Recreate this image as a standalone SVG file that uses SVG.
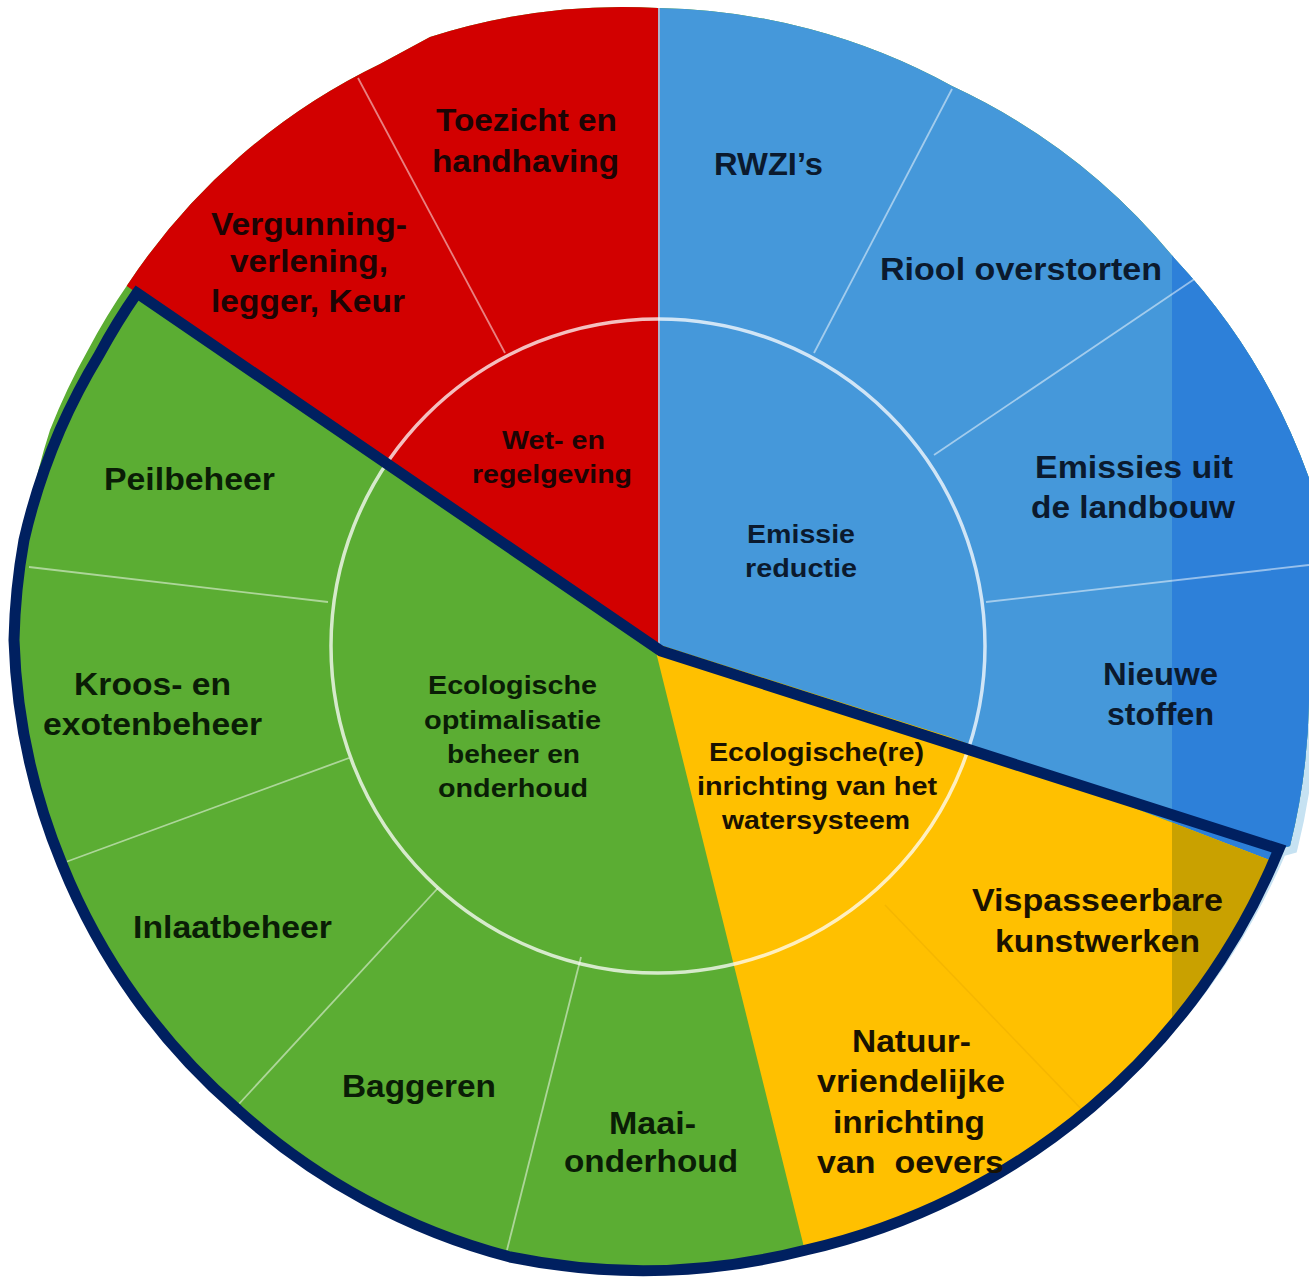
<svg xmlns="http://www.w3.org/2000/svg" width="1309" height="1277" viewBox="0 0 1309 1277">
<style>
.o{font-family:"Liberation Sans",Arial,sans-serif;font-weight:bold;font-size:31px}
.i{font-family:"Liberation Sans",Arial,sans-serif;font-weight:bold;font-size:25px}
.tr{fill:#1c0404}.tb{fill:#0b1a2e}.ty{fill:#1a1200}.tg{fill:#0a1d06}
.div{stroke:#ffffff;stroke-opacity:0.5;stroke-width:1.8;fill:none}
.pre{white-space:pre}
</style>
<defs>
<clipPath id="pie">
<path d="M128 284 A632 632 0 0 1 380 64 L430 37 A632 632 0 0 1 658 8 A632 632 0 0 1 952 86 A632 632 0 0 1 1175 259 A632 632 0 0 1 1309 478 L1320 478 L1320 700 L1309 700 A640 640 0 0 1 1290 846 L1279 849 A673 673 0 0 1 806 1250 A660 660 0 0 1 510 1257 A650 650 0 0 1 238 1110 A640 640 0 0 1 62 864 A640 640 0 0 1 14 640 A632 632 0 0 1 28 520 A632 632 0 0 1 50 430 A632 632 0 0 1 88 350 A632 632 0 0 1 128 284 Z"/>
</clipPath>
</defs>
<rect width="1309" height="1277" fill="#ffffff"/>
<path d="M1309 640 L1309 700 A640 640 0 0 1 1290 846 L1279 849 A673 673 0 0 1 880 1221" fill="none" stroke="#c6e2f2" stroke-width="16"/>
<g id="sector-green" clip-path="url(#pie)">
<rect x="-10" y="-10" width="1330" height="1300" fill="#5bad33"/>
</g>
<g id="sector-red" clip-path="url(#pie)">
<polygon points="659,650 -385,-64 -385,-100 658,-100 658,650" fill="#d20000"/>
</g>
<g id="sector-blue" clip-path="url(#pie)">
<polygon points="658,650 658,-100 1400,-100 1400,910 1290,868 950,737 657,644" fill="#4598da"/>
<polygon points="1172,-100 1400,-100 1400,910 1290,868 1172,822.5" fill="#2d80d9"/>
</g>
<g id="sector-yellow" clip-path="url(#pie)">
<polygon points="657,644 950,737 1290,868 1400,910 1400,1400 842,1400 655,648" fill="#ffc000"/>
<polygon points="1172,822.5 1290,868 1400,910 1400,1400 1172,1400" fill="#c9a100"/>
</g>
<g id="connectors">
<line x1="659" y1="8" x2="659" y2="648" stroke="#f2c4c4" stroke-opacity="0.6" stroke-width="2"/>
<circle cx="658" cy="646" r="327" fill="none" stroke="#ffffff" stroke-opacity="0.75" stroke-width="3.5"/>
<line class="div" x1="505" y1="353" x2="358" y2="78"/>
<line class="div" x1="814" y1="353" x2="952" y2="89"/>
<line class="div" x1="934" y1="455" x2="1196" y2="278"/>
<line class="div" x1="986" y1="602" x2="1309" y2="565"/>
<line x1="885" y1="905" x2="1088" y2="1116" stroke="#d89a00" stroke-opacity="0.25" stroke-width="1.5"/>
<line class="div" x1="328" y1="602" x2="29" y2="567"/>
<line class="div" x1="349" y1="758" x2="63" y2="863"/>
<line class="div" x1="438" y1="888" x2="238" y2="1105"/>
<line class="div" x1="581" y1="957" x2="507" y2="1250"/>
<path id="outline" d="M137 293 L661 651 L1279 849 A673 673 0 0 1 806 1250 A660 660 0 0 1 510 1257 A650 650 0 0 1 238 1110 A640 640 0 0 1 62 864 A640 640 0 0 1 14 640 A640 640 0 0 1 24 540 A640 640 0 0 1 60 430 A640 640 0 0 1 99 355 A640 640 0 0 1 137 293 Z" fill="none" stroke="#002060" stroke-width="11" stroke-linejoin="miter"/>
</g>
<g id="node-wet-en-regelgeving">
<text class="i tr" x="502" y="449" textLength="103" lengthAdjust="spacingAndGlyphs">Wet- en</text>
<text class="i tr" x="472" y="483" textLength="160" lengthAdjust="spacingAndGlyphs">regelgeving</text>
</g>
<g id="node-toezicht">
<text class="o tr" x="436" y="131" textLength="181" lengthAdjust="spacingAndGlyphs">Toezicht en</text>
<text class="o tr" x="432" y="172" textLength="187" lengthAdjust="spacingAndGlyphs">handhaving</text>
</g>
<g id="node-vergunning">
<text class="o tr" x="211" y="235" textLength="196" lengthAdjust="spacingAndGlyphs">Vergunning-</text>
<text class="o tr" x="230" y="272" textLength="158" lengthAdjust="spacingAndGlyphs">verlening,</text>
<text class="o tr" x="211" y="312" textLength="194" lengthAdjust="spacingAndGlyphs">legger, Keur</text>
</g>
<g id="node-emissie-reductie">
<text class="i tb" x="747" y="543" textLength="108" lengthAdjust="spacingAndGlyphs">Emissie</text>
<text class="i tb" x="745" y="577" textLength="112" lengthAdjust="spacingAndGlyphs">reductie</text>
</g>
<g id="node-rwzi">
<text class="o tb" x="714" y="175" textLength="109" lengthAdjust="spacingAndGlyphs">RWZI’s</text>
</g>
<g id="node-riool">
<text class="o tb" x="880" y="280" textLength="282" lengthAdjust="spacingAndGlyphs">Riool overstorten</text>
</g>
<g id="node-landbouw">
<text class="o tb" x="1035" y="478" textLength="198" lengthAdjust="spacingAndGlyphs">Emissies uit</text>
<text class="o tb" x="1031" y="518" textLength="204" lengthAdjust="spacingAndGlyphs">de landbouw</text>
</g>
<g id="node-nieuwe-stoffen">
<text class="o tb" x="1103" y="685" textLength="115" lengthAdjust="spacingAndGlyphs">Nieuwe</text>
<text class="o tb" x="1107" y="725" textLength="107" lengthAdjust="spacingAndGlyphs">stoffen</text>
</g>
<g id="node-ecologische-inrichting">
<text class="i ty" x="709" y="761" textLength="215" lengthAdjust="spacingAndGlyphs">Ecologische(re)</text>
<text class="i ty" x="697" y="795" textLength="240" lengthAdjust="spacingAndGlyphs">inrichting van het</text>
<text class="i ty" x="722" y="829" textLength="188" lengthAdjust="spacingAndGlyphs">watersysteem</text>
</g>
<g id="node-vispasseerbare">
<text class="o ty" x="972" y="911" textLength="251" lengthAdjust="spacingAndGlyphs">Vispasseerbare</text>
<text class="o ty" x="995" y="952" textLength="205" lengthAdjust="spacingAndGlyphs">kunstwerken</text>
</g>
<g id="node-natuurvriendelijke">
<text class="o ty" x="852" y="1052" textLength="119" lengthAdjust="spacingAndGlyphs">Natuur-</text>
<text class="o ty" x="817" y="1092" textLength="188" lengthAdjust="spacingAndGlyphs">vriendelijke</text>
<text class="o ty" x="833" y="1133" textLength="152" lengthAdjust="spacingAndGlyphs">inrichting</text>
<text class="o ty pre" x="817" y="1173" textLength="187" lengthAdjust="spacingAndGlyphs">van  oevers</text>
</g>
<g id="node-ecologische-optimalisatie">
<text class="i tg" x="428" y="694" textLength="169" lengthAdjust="spacingAndGlyphs">Ecologische</text>
<text class="i tg" x="424" y="729" textLength="177" lengthAdjust="spacingAndGlyphs">optimalisatie</text>
<text class="i tg" x="447" y="763" textLength="133" lengthAdjust="spacingAndGlyphs">beheer en</text>
<text class="i tg" x="438" y="797" textLength="150" lengthAdjust="spacingAndGlyphs">onderhoud</text>
</g>
<g id="node-peilbeheer">
<text class="o tg" x="104" y="490" textLength="171" lengthAdjust="spacingAndGlyphs">Peilbeheer</text>
</g>
<g id="node-kroos">
<text class="o tg" x="74" y="695" textLength="157" lengthAdjust="spacingAndGlyphs">Kroos- en</text>
<text class="o tg" x="43" y="735" textLength="219" lengthAdjust="spacingAndGlyphs">exotenbeheer</text>
</g>
<g id="node-inlaatbeheer">
<text class="o tg" x="133" y="938" textLength="199" lengthAdjust="spacingAndGlyphs">Inlaatbeheer</text>
</g>
<g id="node-baggeren">
<text class="o tg" x="342" y="1097" textLength="154" lengthAdjust="spacingAndGlyphs">Baggeren</text>
</g>
<g id="node-maai">
<text class="o tg" x="609" y="1134" textLength="87" lengthAdjust="spacingAndGlyphs">Maai-</text>
<text class="o tg" x="564" y="1172" textLength="174" lengthAdjust="spacingAndGlyphs">onderhoud</text>
</g>
</svg>
